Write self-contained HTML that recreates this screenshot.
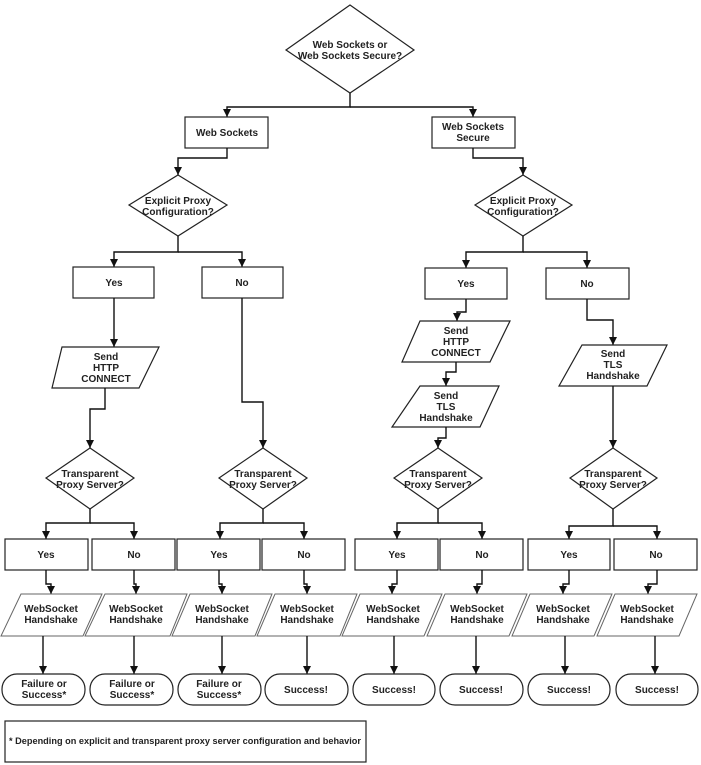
<!DOCTYPE html>
<html><head><meta charset="utf-8"><style>
html,body{margin:0;padding:0;background:#fff;}
svg{display:block;}
text{font-family:"Liberation Sans",Arial,sans-serif;font-weight:bold;font-size:10px;fill:#222;text-anchor:middle;}
.s{fill:#fff;stroke:#222;stroke-width:1.2;}
.p{fill:#fff;stroke:#666;stroke-width:1;}
.l{fill:none;stroke:#111;stroke-width:1.4;}
</style></head><body>
<svg width="701" height="765" viewBox="0 0 701 765" xmlns="http://www.w3.org/2000/svg">
<defs>
<marker id="d" viewBox="0 0 8 8" markerWidth="8" markerHeight="8" refX="4" refY="8" markerUnits="userSpaceOnUse"><path d="M0,0 L8,0 L4,8 Z" fill="#111"/></marker></defs>

<polygon class="s" points="350,5 414,50 350,93 286,50"/>
<text x="350" y="48">Web Sockets or</text><text x="350" y="59">Web Sockets Secure?</text>
<path class="l" d="M350,93 V107 H227 V117" marker-end="url(#d)"/>
<path class="l" d="M350,107 H473 V117" marker-end="url(#d)"/>
<rect class="s" x="185" y="117" width="83" height="31"/><text x="227" y="136">Web Sockets</text>
<rect class="s" x="432" y="117" width="83" height="31"/><text x="473" y="130">Web Sockets</text><text x="473" y="141">Secure</text>

<path class="l" d="M227,148 V158 H178 V175" marker-end="url(#d)"/>
<path class="l" d="M473,148 V158 H523 V175" marker-end="url(#d)"/>
<polygon class="s" points="178,175 227,205 178,236 129,205"/>
<text x="178" y="204">Explicit Proxy</text><text x="178" y="215">Configuration?</text>
<polygon class="s" points="523,175 572,205 523,236 475,205"/>
<text x="523" y="204">Explicit Proxy</text><text x="523" y="215">Configuration?</text>

<path class="l" d="M178,236 V252 H114 V267" marker-end="url(#d)"/>
<path class="l" d="M178,252 H242 V267" marker-end="url(#d)"/>
<path class="l" d="M523,236 V252 H466 V268" marker-end="url(#d)"/>
<path class="l" d="M523,252 H587 V268" marker-end="url(#d)"/>
<rect class="s" x="73" y="267" width="81" height="31"/><text x="114" y="286">Yes</text>
<rect class="s" x="202" y="267" width="81" height="31"/><text x="242" y="286">No</text>
<rect class="s" x="425" y="268" width="82" height="31"/><text x="466" y="287">Yes</text>
<rect class="s" x="546" y="268" width="83" height="31"/><text x="587" y="287">No</text>

<path class="l" d="M114,298 V347" marker-end="url(#d)"/>
<polygon class="s" points="62,347 159,347 139,388 52,388"/>
<text x="106" y="360">Send</text><text x="106" y="371">HTTP</text><text x="106" y="382">CONNECT</text>
<path class="l" d="M105,388 V409 H90 V448" marker-end="url(#d)"/>
<path class="l" d="M242,298 V402 H263 V448" marker-end="url(#d)"/>
<path class="l" d="M466,299 V312 H457 V321" marker-end="url(#d)"/>
<polygon class="s" points="420,321 510,321 490,362 402,362"/>
<text x="456" y="334">Send</text><text x="456" y="345">HTTP</text><text x="456" y="356">CONNECT</text>
<path class="l" d="M456,362 V372 H446 V386" marker-end="url(#d)"/>
<polygon class="s" points="420,386 499,386 480,427 392,427"/>
<text x="446" y="399">Send</text><text x="446" y="410">TLS</text><text x="446" y="421">Handshake</text>
<path class="l" d="M446,427 V438 H438 V448" marker-end="url(#d)"/>
<path class="l" d="M587,299 V320 H613 V345" marker-end="url(#d)"/>
<polygon class="s" points="582,345 667,345 647,386 559,386"/>
<text x="613" y="357">Send</text><text x="613" y="368">TLS</text><text x="613" y="379">Handshake</text>
<path class="l" d="M613,386 V448" marker-end="url(#d)"/>

<polygon class="s" points="90,448 134,478 90,509 46,478"/>
<text x="90" y="477">Transparent</text><text x="90" y="488">Proxy Server?</text>
<polygon class="s" points="263,448 307,478 263,509 219,478"/>
<text x="263" y="477">Transparent</text><text x="263" y="488">Proxy Server?</text>
<polygon class="s" points="438,448 482,478 438,509 394,478"/>
<text x="438" y="477">Transparent</text><text x="438" y="488">Proxy Server?</text>
<polygon class="s" points="613,448 657,478 613,509 570,478"/>
<text x="613" y="477">Transparent</text><text x="613" y="488">Proxy Server?</text>

<path class="l" d="M90,509 V523 H46 V539" marker-end="url(#d)"/><path class="l" d="M90,523 H134 V539" marker-end="url(#d)"/>
<path class="l" d="M263,509 V523 H220 V539" marker-end="url(#d)"/><path class="l" d="M263,523 H304 V539" marker-end="url(#d)"/>
<path class="l" d="M438,509 V523 H397 V539" marker-end="url(#d)"/><path class="l" d="M438,523 H482 V539" marker-end="url(#d)"/>
<path class="l" d="M613,509 V526 H569 V539" marker-end="url(#d)"/><path class="l" d="M613,526 H657 V539" marker-end="url(#d)"/>

<g>
<rect class="s" x="5" y="539" width="83" height="31"/><text x="46" y="558">Yes</text>
<rect class="s" x="92" y="539" width="83" height="31"/><text x="134" y="558">No</text>
<rect class="s" x="177" y="539" width="83" height="31"/><text x="219" y="558">Yes</text>
<rect class="s" x="262" y="539" width="83" height="31"/><text x="304" y="558">No</text>
<rect class="s" x="355" y="539" width="83" height="31"/><text x="397" y="558">Yes</text>
<rect class="s" x="440" y="539" width="83" height="31"/><text x="482" y="558">No</text>
<rect class="s" x="528" y="539" width="82" height="31"/><text x="569" y="558">Yes</text>
<rect class="s" x="614" y="539" width="83" height="31"/><text x="656" y="558">No</text>
</g>

<path class="l" d="M46,570 V584 H51 V594" marker-end="url(#d)"/>
<path class="l" d="M134,570 V584 H136 V594" marker-end="url(#d)"/>
<path class="l" d="M219,570 V584 H222 V594" marker-end="url(#d)"/>
<path class="l" d="M304,570 V584 H307 V594" marker-end="url(#d)"/>
<path class="l" d="M397,570 V584 H392 V594" marker-end="url(#d)"/>
<path class="l" d="M482,570 V584 H477 V594" marker-end="url(#d)"/>
<path class="l" d="M569,570 V584 H563 V594" marker-end="url(#d)"/>
<path class="l" d="M657,570 V584 H648 V594" marker-end="url(#d)"/>

<g>
<polygon class="p" points="21,594 102,594 83,636 1,636"/><polygon class="p" points="105,594 187,594 170,636 85,636"/>
<polygon class="p" points="190,594 272,594 255,636 172,636"/><polygon class="p" points="275,594 357,594 340,636 257,636"/>
<polygon class="p" points="360,594 442,594 424,636 342,636"/><polygon class="p" points="445,594 527,594 509,636 427,636"/>
<polygon class="p" points="530,594 612,594 594,636 512,636"/><polygon class="p" points="615,594 697,594 679,636 597,636"/>
</g>
<text x="51" y="612">WebSocket</text><text x="51" y="623">Handshake</text>
<text x="136" y="612">WebSocket</text><text x="136" y="623">Handshake</text>
<text x="222" y="612">WebSocket</text><text x="222" y="623">Handshake</text>
<text x="307" y="612">WebSocket</text><text x="307" y="623">Handshake</text>
<text x="393" y="612">WebSocket</text><text x="393" y="623">Handshake</text>
<text x="477" y="612">WebSocket</text><text x="477" y="623">Handshake</text>
<text x="563" y="612">WebSocket</text><text x="563" y="623">Handshake</text>
<text x="647" y="612">WebSocket</text><text x="647" y="623">Handshake</text>

<path class="l" d="M43,636 V674" marker-end="url(#d)"/>
<path class="l" d="M134,636 V674" marker-end="url(#d)"/>
<path class="l" d="M222,636 V674" marker-end="url(#d)"/>
<path class="l" d="M307,636 V674" marker-end="url(#d)"/>
<path class="l" d="M394,636 V674" marker-end="url(#d)"/>
<path class="l" d="M476,636 V674" marker-end="url(#d)"/>
<path class="l" d="M565,636 V674" marker-end="url(#d)"/>
<path class="l" d="M655,636 V674" marker-end="url(#d)"/>

<g>
<rect class="s" x="2" y="674" width="83" height="31" rx="15"/><text x="44" y="687">Failure or</text><text x="44" y="698">Success*</text>
<rect class="s" x="90" y="674" width="83" height="31" rx="15"/><text x="132" y="687">Failure or</text><text x="132" y="698">Success*</text>
<rect class="s" x="178" y="674" width="83" height="31" rx="15"/><text x="219" y="687">Failure or</text><text x="219" y="698">Success*</text>
<rect class="s" x="265" y="674" width="83" height="31" rx="15"/><text x="306" y="693">Success!</text>
<rect class="s" x="353" y="674" width="82" height="31" rx="15"/><text x="394" y="693">Success!</text>
<rect class="s" x="440" y="674" width="83" height="31" rx="15"/><text x="481" y="693">Success!</text>
<rect class="s" x="528" y="674" width="82" height="31" rx="15"/><text x="569" y="693">Success!</text>
<rect class="s" x="616" y="674" width="82" height="31" rx="15"/><text x="657" y="693">Success!</text>
</g>

<rect class="s" x="5" y="721" width="361" height="41"/>
<text x="9" y="744" style="font-size:9px;text-anchor:start" textLength="352" lengthAdjust="spacingAndGlyphs">* Depending on explicit and transparent proxy server configuration and behavior</text>
</svg>
</body></html>
